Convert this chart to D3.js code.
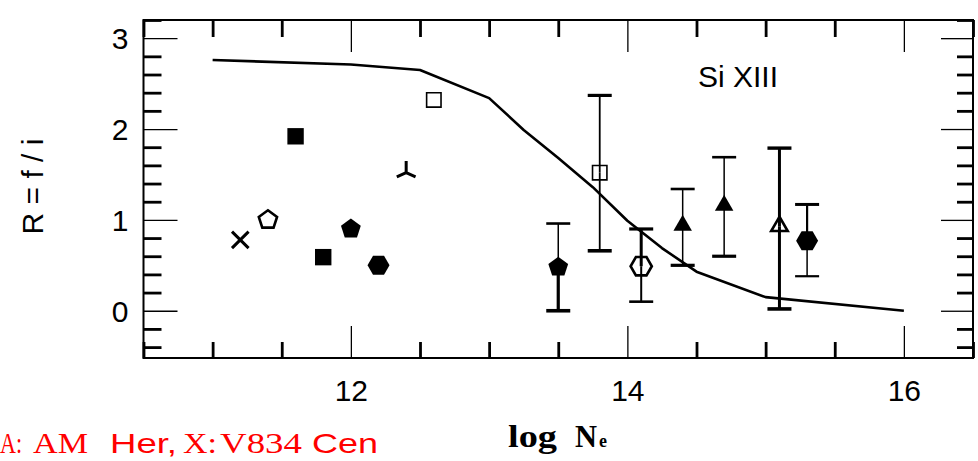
<!DOCTYPE html>
<html>
<head>
<meta charset="utf-8">
<script src="https://cdn.jsdelivr.net/npm/d3@7"></script>
<style>
  html, body { margin: 0; padding: 0; background: #fff; }
  svg { display: block; }
</style>
</head>
<body>
<svg id="chart" width="978" height="461"></svg>
<script>
// Si XIII forbidden/intercombination ratio versus electron density

// Observed points
const logNe     = [11.2, 11.4, 11.6, 11.8, 12.0, 12.2, 12.4, 12.6, 13.5, 13.8, 14.1, 14.4, 14.7, 15.1, 15.3];
const ratio     = [0.78, 1.00, 1.92, 0.59, 0.90, 0.50, 1.52, 2.32, 0.48, 1.52, 0.49, 0.94, 1.16, 0.93, 0.77];
const ratioLow  = [null, null, null, null, null, null, null, null, 0.00, 0.66, 0.10, 0.50, 0.60, 0.02, 0.38];
const ratioHigh = [null, null, null, null, null, null, null, null, 0.96, 2.37, 0.90, 1.34, 1.69, 1.79, 1.17];
const symbolKind = ["cross", "pentagonOpen", "square", "square", "pentagon", "hexagon", "triStar", "squareOpen",
                    "pentagon", "squareOpen", "hexagonOpen", "triangle", "triangle", "triangleOpen", "hexagon"];

// Theoretical curve
const modelLogNe = [11, 12, 12.5, 13, 13.25, 13.5, 13.75, 14, 14.25, 14.5, 15, 16];
const modelR     = [2.76, 2.71, 2.65, 2.34, 1.99, 1.68, 1.36, 0.99, 0.69, 0.43, 0.15, 0.00];

// Axis ticks
const xMajorTicks = [12, 14, 16];
const yMajorTicks = [0, 1, 2, 3];

const svg = d3.select("#chart");
const L = 143.5, R = 973, T = 20, B = 358;

const x = d3.scaleLinear().domain([10.5, 16.5]).range([L, R]);
const y = d3.scaleLinear().domain([-0.52, 3.2]).range([B, T]);

const xMinorTicks = d3.range(10.5, 16.51, 0.5).filter(v => !xMajorTicks.includes(v));
const yMinorTicks = d3.range(-4, 33, 2).map(v => v / 10).filter(v => !yMajorTicks.includes(v));

const sans = "'Liberation Sans', Arial, Helvetica, sans-serif";
const serif = "'Liberation Serif', 'Times New Roman', serif";

// ---- axes on all four sides ----
function styleAxis(g, width) {
  g.select(".domain").remove();
  g.selectAll(".tick line").attr("stroke", "#000").attr("stroke-width", width);
  g.selectAll(".tick text").attr("font-family", sans).attr("font-size", 30).attr("fill", "#000");
}
function addAxis(axisFn, scale, pos, transform, majorLen, minorLen, labelled, pad) {
  const major = axisFn(scale).tickValues(pos === "x" ? xMajorTicks : yMajorTicks)
    .tickSize(-majorLen).tickPadding(pad || 0)
    .tickFormat(labelled ? d3.format("d") : "");
  const gMaj = svg.append("g").attr("transform", transform).call(major);
  styleAxis(gMaj, 1.3);
  const minor = axisFn(scale).tickValues(pos === "x" ? xMinorTicks : yMinorTicks)
    .tickSize(-minorLen).tickFormat("");
  const gMin = svg.append("g").attr("transform", transform).call(minor);
  styleAxis(gMin, 2.8);
  return gMaj;
}
const gBottom = addAxis(d3.axisBottom, x, "x", `translate(0,${B})`, 32, 16, true, 22);
gBottom.selectAll(".tick text").attr("dy", "0.71em");
addAxis(d3.axisTop, x, "x", `translate(0,${T})`, 32, 17, false);
const gLeft = addAxis(d3.axisLeft, y, "y", `translate(${L},0)`, 34, 18, true, 15);
gLeft.selectAll(".tick text").attr("dy", "0.36em");
addAxis(d3.axisRight, y, "y", `translate(${R},0)`, 32, 16, false);

// frame
svg.append("rect")
  .attr("x", L).attr("y", T).attr("width", R - L).attr("height", B - T)
  .attr("fill", "none").attr("stroke", "#000").attr("stroke-width", 2);

// ---- model curve ----
const curve = d3.line().x(d => x(d[0])).y(d => y(d[1]));
svg.append("path")
  .datum(d3.zip(modelLogNe, modelR))
  .attr("d", curve)
  .attr("fill", "none").attr("stroke", "#000").attr("stroke-width", 2.6)
  .attr("stroke-linejoin", "round");

// ---- symbol shapes (size is used as the characteristic radius) ----
function polygon(n, startDeg) {
  return {
    draw(ctx, r) {
      for (let k = 0; k < n; k++) {
        const a = (startDeg + k * 360 / n) * Math.PI / 180;
        const px = r * Math.cos(a), py = r * Math.sin(a);
        if (k === 0) ctx.moveTo(px, py); else ctx.lineTo(px, py);
      }
      ctx.closePath();
    }
  };
}
const squareType = { draw(ctx, r) { ctx.rect(-r, -r, 2 * r, 2 * r); } };
const triangleType = {
  draw(ctx, s) {
    const h = s * Math.sqrt(3) / 2;
    ctx.moveTo(0, -h * 2 / 3); ctx.lineTo(s / 2, h / 3); ctx.lineTo(-s / 2, h / 3); ctx.closePath();
  }
};
const crossType = {
  draw(ctx, r) { ctx.moveTo(-r, -r); ctx.lineTo(r, r); ctx.moveTo(r, -r); ctx.lineTo(-r, r); }
};
const triStarType = {
  draw(ctx, r) {
    ctx.moveTo(0, 0); ctx.lineTo(0, -r * 1.15);
    ctx.moveTo(0, 0); ctx.lineTo(-r * 0.92, r * 0.42);
    ctx.moveTo(0, 0); ctx.lineTo(r * 0.92, r * 0.42);
  }
};

const symbolStyle = {
  cross:        { type: crossType,          size: 8.3,  fill: "none", stroke: 3 },
  pentagonOpen: { type: polygon(5, -90),    size: 9.6,  fill: "none", stroke: 2.6 },
  pentagon:     { type: polygon(5, -90),    size: 10.4, fill: "#000", stroke: 0 },
  square:       { type: squareType,         size: 8.2,  fill: "#000", stroke: 0 },
  squareOpen:   { type: squareType,         size: 7.2,  fill: "none", stroke: 1.6 },
  hexagon:      { type: polygon(6, 0),      size: 11,   fill: "#000", stroke: 0 },
  hexagonOpen:  { type: polygon(6, 0),      size: 10.6, fill: "none", stroke: 2.6 },
  triStar:      { type: triStarType,        size: 10.2, fill: "none", stroke: 3 },
  triangle:     { type: triangleType,       size: 18.5, fill: "#000", stroke: 0 },
  triangleOpen: { type: triangleType,       size: 16.5, fill: "none", stroke: 2.6 }
};

const points = logNe.map((v, i) => ({
  v, r: ratio[i], lo: ratioLow[i], hi: ratioHigh[i], kind: symbolKind[i]
}));

// stroke widths of the error bars: [upper stem, lower stem, upper cap, lower cap]
const barWeight = {
  13.5: [1.5, 3.2, 2.6, 3.6],
  13.8: [1.8, 1.8, 3.2, 3.6],
  14.1: [3.0, 2.0, 3.2, 2.6],
  14.4: [1.5, 1.5, 2.6, 3.2],
  14.7: [1.5, 1.5, 2.6, 3.2],
  15.1: [3.0, 3.0, 3.4, 3.6],
  15.3: [2.2, 1.5, 3.0, 2.2]
};
const capHalf = 12;

const bars = svg.append("g").attr("stroke", "#000");
points.filter(p => p.lo !== null).forEach(p => {
  const w = barWeight[p.v];
  const cx = x(p.v);
  bars.append("line").attr("x1", cx).attr("x2", cx).attr("y1", y(p.r)).attr("y2", y(p.hi)).attr("stroke-width", w[0]);
  bars.append("line").attr("x1", cx).attr("x2", cx).attr("y1", y(p.r)).attr("y2", y(p.lo)).attr("stroke-width", w[1]);
  bars.append("line").attr("x1", cx - capHalf).attr("x2", cx + capHalf).attr("y1", y(p.hi)).attr("y2", y(p.hi)).attr("stroke-width", w[2]);
  bars.append("line").attr("x1", cx - capHalf).attr("x2", cx + capHalf).attr("y1", y(p.lo)).attr("y2", y(p.lo)).attr("stroke-width", w[3]);
});

svg.append("g").selectAll("path")
  .data(points)
  .join("path")
  .attr("transform", d => `translate(${x(d.v)},${y(d.r)})`)
  .attr("d", d => d3.symbol(symbolStyle[d.kind].type, symbolStyle[d.kind].size)())
  .attr("fill", d => symbolStyle[d.kind].fill)
  .attr("stroke", d => symbolStyle[d.kind].stroke ? "#000" : "none")
  .attr("stroke-width", d => symbolStyle[d.kind].stroke)
  .attr("stroke-linejoin", "miter");

// ---- labels ----
svg.append("text")
  .attr("x", 698).attr("y", 87)
  .attr("font-family", sans).attr("font-size", 30)
  .text("Si XIII");

svg.append("text")
  .attr("transform", "translate(43,186.5) rotate(-90)")
  .attr("text-anchor", "middle")
  .attr("font-family", sans).attr("font-size", 30)
  .text("R = f / i");

// axis title in a heavy serif face
const xLabel = svg.append("text")
  .attr("y", 447)
  .attr("font-family", serif)
  .attr("font-weight", "bold").attr("font-size", 32);
xLabel.append("tspan").attr("x", 508).attr("textLength", 49).attr("lengthAdjust", "spacingAndGlyphs").text("log");
xLabel.append("tspan").attr("x", 575).attr("textLength", 22).attr("lengthAdjust", "spacingAndGlyphs").text("N");
xLabel.append("tspan").attr("x", 599).attr("font-size", 18).text("e");

// source note in red
const note = [
  { t: "A:",   x: 0,   w: 22, f: serif },
  { t: "AM",   x: 33,  w: 55, f: serif },
  { t: "Her,", x: 110, w: 67, f: sans },
  { t: "X:",   x: 183, w: 34, f: serif },
  { t: "V834", x: 220, w: 82, f: serif },
  { t: "Cen",  x: 312, w: 66, f: sans }
];
svg.append("g").selectAll("text")
  .data(note)
  .join("text")
  .attr("x", d => d.x).attr("y", 453)
  .attr("font-family", d => d.f)
  .attr("font-size", d => d.f === sans ? 28 : 30)
  .attr("fill", "#ff0000")
  .attr("textLength", d => d.w)
  .attr("lengthAdjust", "spacingAndGlyphs")
  .text(d => d.t);
</script>
</body>
</html>
